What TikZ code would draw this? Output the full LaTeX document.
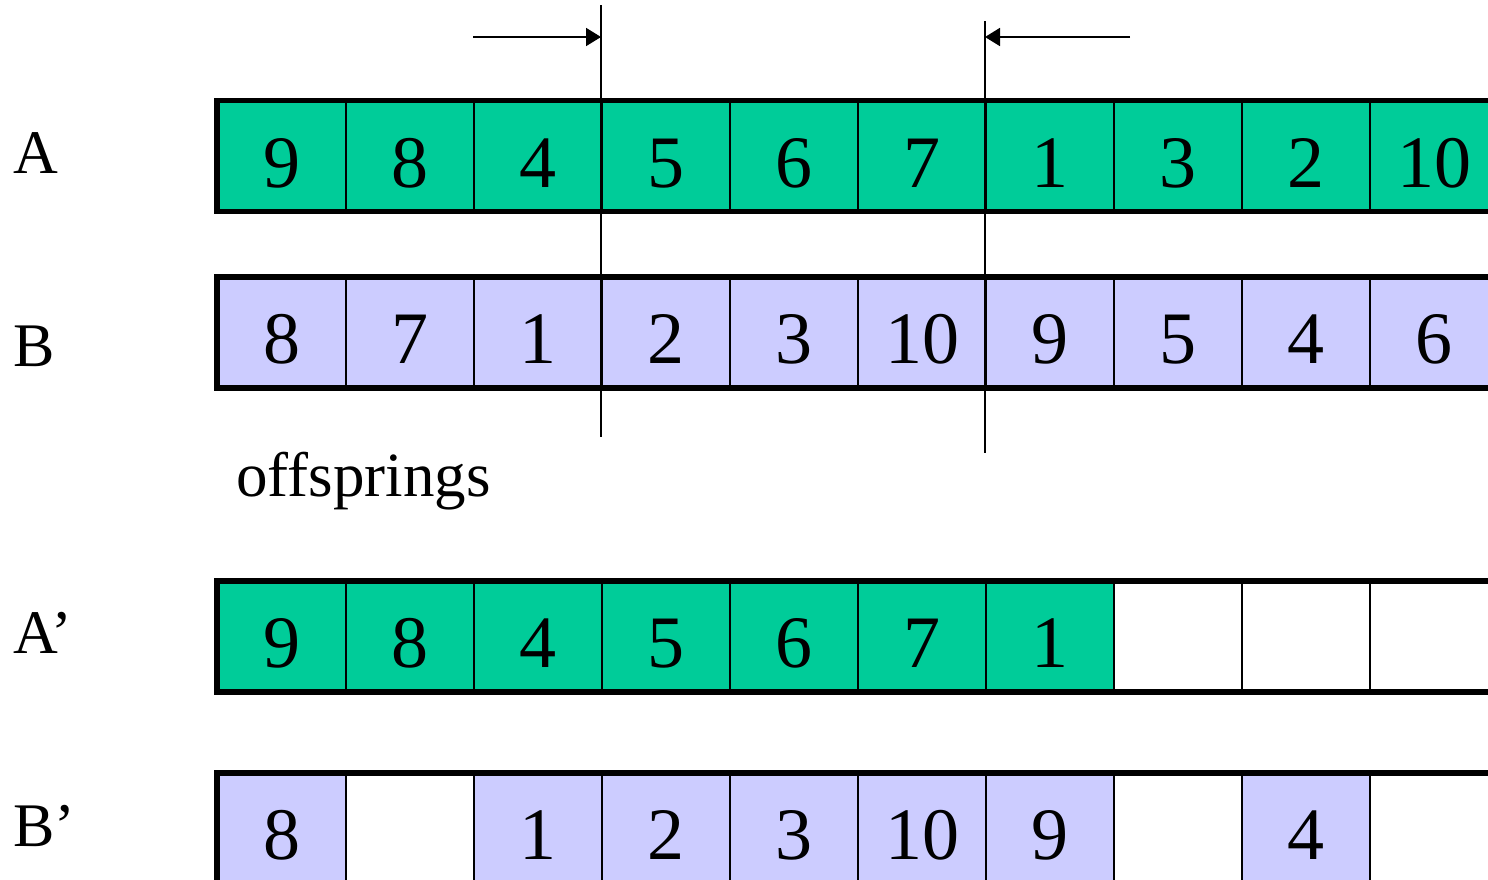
\documentclass[tikz,border=0pt]{standalone}
\usepackage{fontspec}
\setmainfont{Liberation Serif}
\usetikzlibrary{arrows.meta}
\definecolor{cgreen}{RGB}{0,204,153}
\definecolor{clav}{RGB}{204,204,255}
\begin{document}
\begin{tikzpicture}[x=1pt,y=-1pt,
  cell/.style={rectangle, draw=black, line width=2.2pt, minimum width=128pt, minimum height=109pt,
    inner sep=0pt, anchor=north west, font=\fontsize{74}{80}\selectfont, text height=62pt, text depth=0pt},
  gcell/.style={cell, fill=cgreen},
  lcell/.style={cell, fill=clav},
  ecell/.style={cell, fill=white},
  frame/.style={line width=5.5pt, line join=miter},
  rowlabel/.style={anchor=base west, inner sep=0pt, font=\fontsize{62}{70}\selectfont},
  cutline/.style={line width=1.8pt},
  cutarrow/.style={line width=1.8pt, -{Triangle[length=15pt,width=18pt]}}]
\useasboundingbox (0,0) rectangle (1488,879);
\clip (0,0) rectangle (1488,879);
% row A
\foreach \v [count=\i] in {9,8,4,5,6,7,1,3,2,10}
  \node[gcell] (A\i) at ({217+128*(\i-1)},100.5) {\v};
% row B
\foreach \v [count=\i] in {8,7,1,2,3,10,9,5,4,6}
  \node[lcell] (B\i) at ({217+128*(\i-1)},277) {\v};
% row A'
\foreach \v/\s [count=\i] in {9/gcell,8/gcell,4/gcell,5/gcell,6/gcell,7/gcell,1/gcell,{}/ecell,{}/ecell,{}/ecell}
  \node[\s] (Ap\i) at ({217+128*(\i-1)},581) {\v};
% row B'
\foreach \v/\s [count=\i] in {8/lcell,{}/ecell,1/lcell,2/lcell,3/lcell,10/lcell,9/lcell,{}/ecell,4/lcell,{}/ecell}
  \node[\s] (Bp\i) at ({217+128*(\i-1)},773) {\v};
% frames
\draw[frame] (A10.north east) -- (A1.north west) -- (A1.south west) -- (A10.south east);
\draw[frame] (B10.north east) -- (B1.north west) -- (B1.south west) -- (B10.south east);
\draw[frame] (Ap10.north east) -- (Ap1.north west) -- (Ap1.south west) -- (Ap10.south east);
\draw[frame] (Bp10.north east) -- (Bp1.north west) -- (Bp1.south west) -- (Bp10.south east);
% labels
\node[rowlabel] (lA) at (13,173) {A};
\node[rowlabel] (lB) at (13,366) {B};
\node[rowlabel] (lAp) at (13,653) {A’};
\node[rowlabel] (lBp) at (13,846) {B’};
\node[rowlabel, font=\fontsize{63}{70}\selectfont] (off) at (236,496) {offsprings};
% cut points
\coordinate (c1t) at (601,5);
\coordinate (c1b) at (601,437);
\coordinate (c2t) at (985,21);
\coordinate (c2b) at (985,453);
\coordinate (a1s) at (473,37);
\coordinate (a1e) at (601,37);
\coordinate (a2s) at (1130,37);
\coordinate (a2e) at (985,37);
\draw[cutline] (c1t) -- (c1b);
\draw[cutline] (c2t) -- (c2b);
\draw[cutarrow] (a1s) -- (a1e);
\draw[cutarrow] (a2s) -- (a2e);
\end{tikzpicture}
\end{document}
